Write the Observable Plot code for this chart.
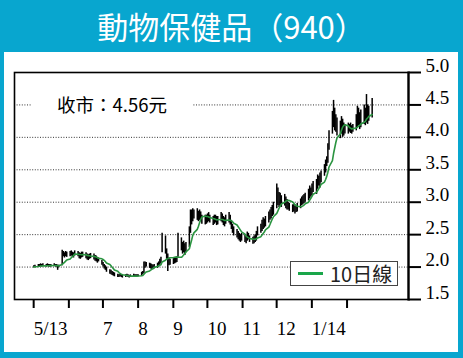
<!DOCTYPE html>
<html><head><meta charset="utf-8">
<script src="https://cdn.jsdelivr.net/npm/d3@7"></script>
<script src="https://cdn.jsdelivr.net/npm/@observablehq/plot@0.6"></script>
<style>
html,body{margin:0;padding:0;}
body{width:463px;height:358px;background:#08a6cf;position:relative;overflow:hidden;font-family:"Noto Sans CJK TC","Noto Sans",sans-serif;}
#title{position:absolute;left:0;top:5px;width:463px;text-align:center;color:#fff;font-size:31px;line-height:42px;}
#panel{position:absolute;left:4px;top:52px;width:454px;height:300px;background:#fff;}
#panel svg{position:absolute;left:0;top:0;}
#close{position:absolute;left:32px;top:93px;width:160px;height:22px;background:#fff;text-align:center;font-size:18.5px;line-height:22px;color:#000;}
#legend{position:absolute;left:290px;top:261px;width:106px;height:23px;border:1.5px solid #444;background:#fff;}
#legend .sw{position:absolute;left:7px;top:10px;width:25px;height:3px;background:#1aa64a;}
#legend .tx{position:absolute;left:39px;top:-2px;font-size:20px;line-height:27px;color:#222;}
</style>
</head><body>
<div id="title">動物保健品（940）</div>
<div id="panel"></div>
<div id="close">收市：4.56元</div>
<div id="legend"><div class="sw"></div><div class="tx">10日線</div></div>
<script>
// Daily high / low / close, trading days (Mon–Fri) from 2013-05-02 to 2014-02-24
const high = [
  /*May*/ 2.02,2.03,2.04,2.04,2.05,2.04,2.05,2.04,2.05,2.04,2.04,2.04,2.05,2.04,2.04,2.03,2.03,2.26,2.24,2.22,2.24,2.23,
  /*Jun*/ 2.24,2.25,2.23,2.22,2.25,2.24,2.22,2.21,2.23,2.23,2.22,2.20,2.19,2.20,2.21,2.20,2.18,2.17,2.15,2.14,
  /*Jul*/ 2.10,2.07,2.04,2.02,2.00,1.96,1.95,1.93,1.92,1.91,1.89,1.88,1.89,1.88,1.88,1.88,1.89,1.88,1.87,1.88,1.89,1.88,1.88,
  /*Aug*/ 1.88,1.88,1.92,1.93,2.08,2.08,2.07,2.06,2.05,2.04,2.03,2.04,2.06,2.08,2.12,2.15,2.52,2.48,2.28,2.20,2.14,2.12,
  /*Sep*/ 2.13,2.14,2.15,2.16,2.52,2.45,2.38,2.40,2.36,2.38,2.62,2.88,2.88,2.90,2.88,2.90,2.86,2.88,2.85,2.80,2.80,
  /*Oct*/ 2.80,2.82,2.84,2.80,2.78,2.80,2.80,2.78,2.78,2.84,2.82,2.78,2.76,2.80,2.84,2.80,2.72,2.66,2.62,2.58,2.55,2.52,2.50,
  /*Nov*/ 2.52,2.50,2.48,2.54,2.52,2.48,2.46,2.48,2.50,2.55,2.62,2.66,2.72,2.76,2.74,2.78,2.85,2.88,2.92,2.95,3.00,
  /*Dec*/ 3.28,3.22,3.15,3.14,3.10,3.12,3.08,3.04,3.00,2.98,2.96,2.96,2.94,2.95,2.98,3.05,3.08,3.10,3.12,3.14,3.20,3.25,
  /*Jan*/ 3.22,3.28,3.32,3.35,3.42,3.40,3.45,3.48,3.58,3.65,3.70,3.90,4.10,4.40,4.57,4.45,4.35,4.30,4.25,4.32,4.28,4.22,4.20,
  /*Feb*/ 4.22,4.20,4.22,4.18,4.20,4.35,4.48,4.45,4.38,4.42,4.50,4.45,4.66,4.50,4.48,4.60
];
const low = [
  /*May*/ 1.99,1.99,2.00,2.00,2.01,2.00,2.01,2.00,2.01,2.00,2.00,2.00,2.01,2.00,2.00,1.95,1.99,2.02,2.16,2.14,2.16,2.15,
  /*Jun*/ 2.16,2.17,2.15,2.14,2.17,2.16,2.13,2.12,2.14,2.15,2.13,2.11,2.10,2.12,2.13,2.11,2.09,2.08,2.06,2.08,
  /*Jul*/ 2.03,2.00,1.97,1.95,1.92,1.89,1.88,1.87,1.86,1.85,1.84,1.84,1.85,1.84,1.83,1.84,1.85,1.84,1.83,1.84,1.85,1.84,1.84,
  /*Aug*/ 1.85,1.85,1.86,1.88,1.90,1.98,2.00,1.98,1.97,1.96,1.96,1.97,1.98,2.00,2.03,2.05,2.22,2.20,2.12,1.93,2.02,2.03,
  /*Sep*/ 2.04,2.05,2.06,2.07,2.15,2.25,2.20,2.22,2.18,2.22,2.30,2.52,2.65,2.70,2.74,2.72,2.70,2.72,2.70,2.66,2.65,
  /*Oct*/ 2.66,2.68,2.70,2.68,2.64,2.66,2.68,2.64,2.65,2.70,2.68,2.64,2.62,2.66,2.68,2.65,2.58,2.52,2.48,2.45,2.42,2.40,2.38,
  /*Nov*/ 2.40,2.38,2.36,2.40,2.42,2.38,2.35,2.36,2.38,2.40,2.48,2.52,2.55,2.58,2.60,2.62,2.68,2.72,2.74,2.78,2.80,
  /*Dec*/ 2.90,2.95,2.92,2.95,2.92,2.94,2.90,2.88,2.88,2.86,2.84,2.85,2.82,2.84,2.85,2.90,2.95,2.96,2.98,3.00,3.02,3.05,
  /*Jan*/ 3.08,3.10,3.15,3.12,3.20,3.25,3.22,3.30,3.40,3.45,3.55,3.60,3.80,4.05,4.15,4.10,4.08,4.02,3.98,4.05,4.00,4.02,4.05,
  /*Feb*/ 4.05,4.08,4.06,4.05,4.08,4.10,4.15,4.18,4.12,4.15,4.20,4.18,4.22,4.20,4.25,4.30
];
const close = [
  /*May*/ 2.00,2.01,2.02,2.02,2.03,2.02,2.03,2.02,2.03,2.02,2.02,2.02,2.03,2.02,2.02,2.00,2.01,2.22,2.20,2.18,2.21,2.19,
  /*Jun*/ 2.20,2.21,2.19,2.18,2.22,2.20,2.17,2.16,2.19,2.20,2.17,2.14,2.13,2.16,2.18,2.15,2.12,2.11,2.09,2.12,
  /*Jul*/ 2.07,2.04,2.00,1.98,1.95,1.92,1.91,1.90,1.89,1.88,1.87,1.86,1.87,1.86,1.85,1.86,1.87,1.86,1.85,1.86,1.87,1.86,1.86,
  /*Aug*/ 1.86,1.87,1.90,1.91,2.05,2.04,2.03,2.02,2.00,1.99,2.00,2.01,2.03,2.06,2.10,2.12,2.45,2.30,2.18,2.05,2.08,2.06,
  /*Sep*/ 2.08,2.10,2.12,2.14,2.40,2.30,2.32,2.28,2.25,2.34,2.58,2.80,2.76,2.85,2.80,2.84,2.78,2.82,2.76,2.72,2.74,
  /*Oct*/ 2.72,2.76,2.78,2.72,2.70,2.74,2.72,2.68,2.74,2.78,2.72,2.70,2.68,2.74,2.76,2.70,2.62,2.56,2.52,2.48,2.46,2.44,2.42,
  /*Nov*/ 2.46,2.42,2.40,2.48,2.45,2.40,2.38,2.44,2.42,2.52,2.58,2.62,2.66,2.70,2.68,2.74,2.80,2.84,2.86,2.90,2.95,
  /*Dec*/ 3.15,3.05,3.10,3.02,3.05,3.08,3.00,2.96,2.94,2.92,2.90,2.88,2.86,2.90,2.94,3.00,3.04,3.05,3.08,3.10,3.15,3.20,
  /*Jan*/ 3.15,3.20,3.25,3.30,3.32,3.35,3.40,3.42,3.52,3.60,3.62,3.85,4.05,4.30,4.40,4.20,4.25,4.10,4.15,4.20,4.08,4.12,4.15,
  /*Feb*/ 4.12,4.15,4.10,4.12,4.16,4.25,4.30,4.28,4.22,4.35,4.40,4.28,4.45,4.30,4.38,4.56
];
const yTicks = [1.5, 2.0, 2.5, 3.0, 3.5, 4.0, 4.5, 5.0];
const gridTicks = [2.0, 2.5, 3.0, 3.5, 4.0, 4.5];
const monthLabels = {4: "5/13", 5: "", 6: "7", 7: "8", 8: "9", 9: "10", 10: "11", 11: "12", 0: "1/14", 1: ""};

const days = d3.utcDays(new Date(Date.UTC(2013, 4, 2)), new Date(Date.UTC(2014, 1, 25)))
  .filter(d => d.getUTCDay() !== 0 && d.getUTCDay() !== 6);
const n = Math.min(days.length, close.length);
const data = d3.range(n).map(i => ({date: days[i], high: high[i], low: low[i], close: close[i]}));
const monthTicks = d3.utcMonths(new Date(Date.UTC(2013, 4, 1)), new Date(Date.UTC(2014, 1, 2)));

const serif = "'Liberation Serif','Times New Roman',serif";
const chart = Plot.plot({
  width: 454, height: 300,
  marginLeft: 10, marginTop: 20, marginRight: 50, marginBottom: 53,
  style: {background: "white", overflow: "visible", color: "#000"},
  x: {type: "utc", domain: [new Date(Date.UTC(2013, 3, 15)), new Date(Date.UTC(2014, 2, 28))]},
  y: {domain: [1.5, 5.0]},
  marks: [
    Plot.ruleY(gridTicks, {stroke: "#333", strokeDasharray: "1,1.6", strokeWidth: 1}),
    Plot.ruleX(data, {x: "date", y1: "low", y2: "high", stroke: "#000", strokeWidth: 1.5}),
    Plot.lineY(data, Plot.windowY({k: 10, anchor: "end"}, {x: "date", y: "close", stroke: "#2a9440", strokeWidth: 1.6})),
    Plot.frame({stroke: "#000", strokeWidth: 1.6}),
    Plot.frame({anchor: "right", stroke: "#000", strokeWidth: 2.2}),
    Plot.axisY(yTicks, {anchor: "right", tickSize: 12, strokeWidth: 2, fill: "none", label: null}),
    Plot.axisY(yTicks, {anchor: "right", tickSize: 0, tickPadding: 17, dy: -7, tickFormat: d3.format(".1f"),
      fontSize: 19, fontFamily: serif, label: null}),
    Plot.axisX(monthTicks, {anchor: "bottom", tickSize: 9, strokeWidth: 2, tickPadding: 13, textAnchor: "start", dx: 1,
      tickFormat: d => monthLabels[d.getUTCMonth()], fontSize: 19, fontFamily: serif, label: null})
  ]
});
document.getElementById("panel").appendChild(chart);
</script>
</body></html>
